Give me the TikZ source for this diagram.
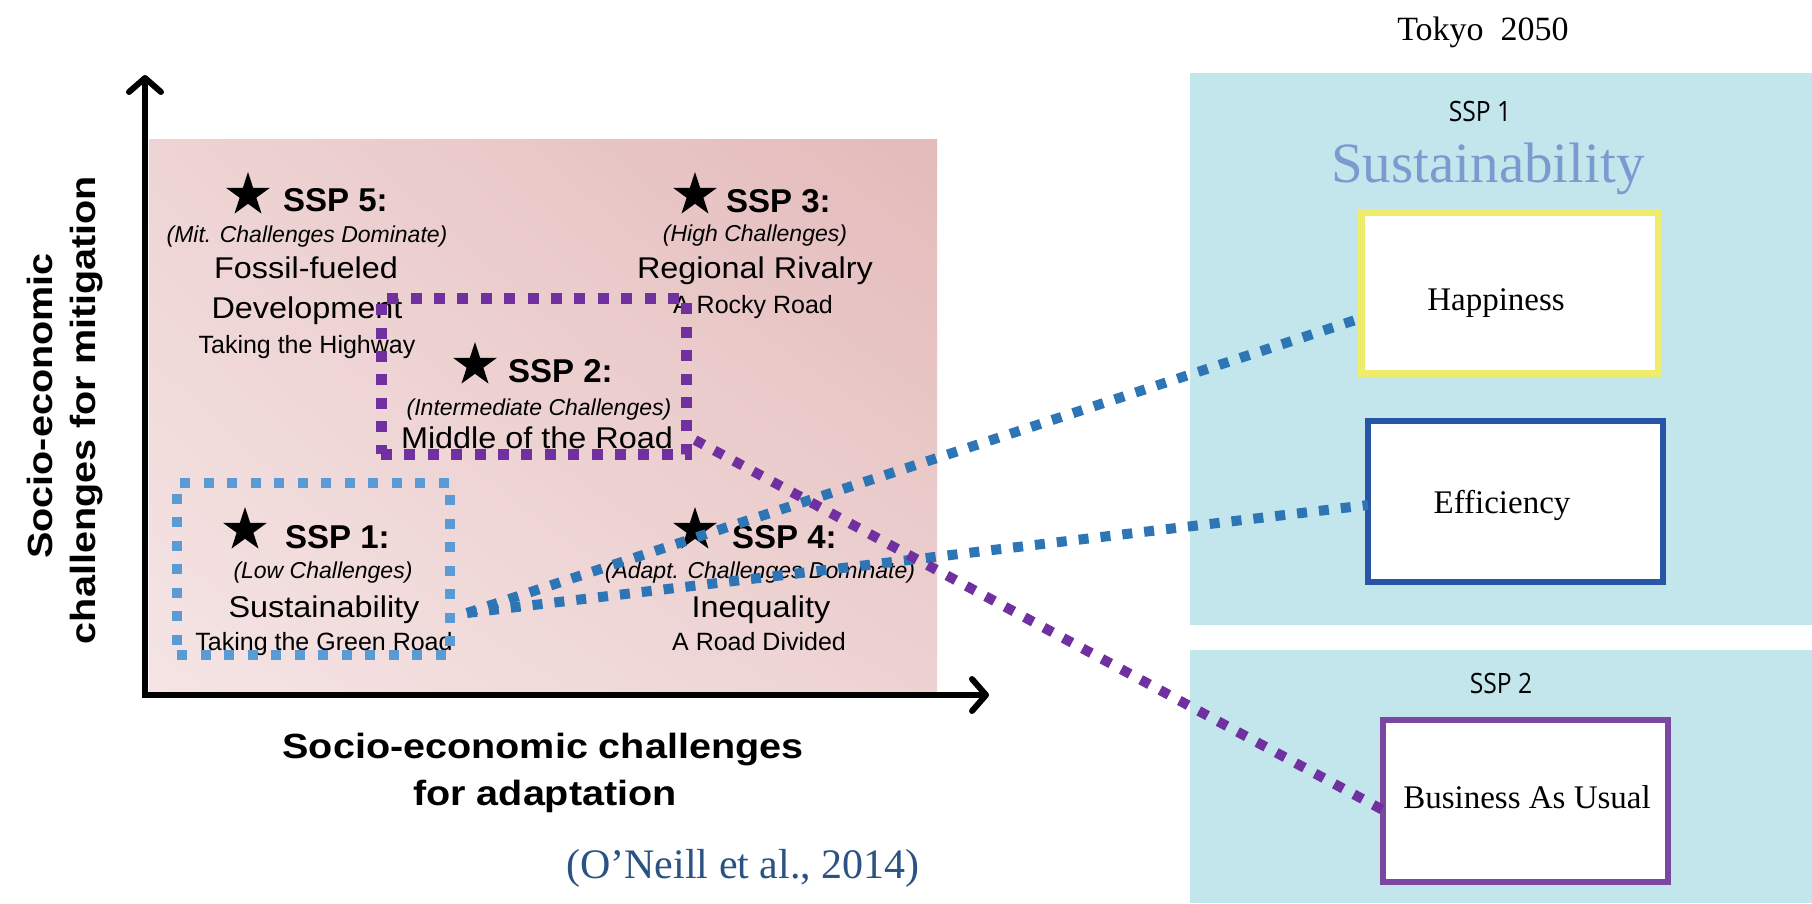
\documentclass[tikz,border=0pt]{standalone}
\usepackage{fontspec}
\setmainfont{Liberation Sans}
\newfontfamily\wsans{Liberation Sans}[FakeStretch=1.08]
\newfontfamily\axsans{Liberation Sans}[FakeStretch=1.13]
\newfontfamily\tserif{Liberation Serif}
\newfontfamily\jsans{Open Sans}[FakeStretch=0.88]
\usetikzlibrary{arrows.meta,shadings}
\definecolor{pUL}{RGB}{238,212,212}
\definecolor{pUR}{RGB}{228,186,186}
\definecolor{pLL}{RGB}{245,228,228}
\definecolor{pLR}{RGB}{237,210,210}
\definecolor{yellowc}{RGB}{238,236,106}
\definecolor{effc}{RGB}{38,86,165}
\definecolor{bauc}{RGB}{122,72,160}
\definecolor{purp}{RGB}{112,48,160}
\definecolor{lblue}{RGB}{91,155,213}
\definecolor{dblue}{RGB}{46,117,182}
\definecolor{sustc}{RGB}{122,155,208}
\definecolor{citec}{RGB}{42,82,130}
\definecolor{cyanp}{RGB}{195,229,236}
\tikzset{
  sstar/.pic={\fill[black] (270:23) -- (306:8.8) -- (342:23) -- (18:8.8) -- (54:23) -- (90:8.8) -- (126:23) -- (162:8.8) -- (198:23) -- (234:8.8) -- cycle;},
  ssphead/.style={anchor=base west, inner sep=0pt, font=\fontsize{33}{33}\selectfont\bfseries},
  subl/.style={anchor=base, inner sep=0pt, font=\fontsize{23}{23}\selectfont\itshape},
  bigl/.style={anchor=base, inner sep=0pt, font=\wsans\fontsize{30}{30}\selectfont},
  smalll/.style={anchor=base, inner sep=0pt, font=\fontsize{25}{25}\selectfont},
  axlab/.style={anchor=base, inner sep=0pt, font=\axsans\bfseries\fontsize{35}{35}\selectfont},
  axisline/.style={line width=6pt, -{Straight Barb[length=14pt,width=32pt,round]}},
  dotrect/.style={rectangle, inner sep=0pt, outer sep=0pt},
  rbox/.style={rectangle, fill=white, inner sep=0pt, outer sep=0pt},
  boxlab/.style={anchor=base, inner sep=0pt, font=\tserif\fontsize{33}{33}\selectfont},
  conn/.style={line width=10pt, dash pattern=on 10pt off 12pt}
}
\begin{document}
\begin{tikzpicture}[x=1pt,y=-1pt]
\useasboundingbox (0,0) rectangle (1812,903);
\fill[white] (0,0) rectangle (1812,903);
% pink background
\shade[upper left=pUL, upper right=pUR, lower left=pLL, lower right=pLR] (149,139) rectangle (937,691);
% axes
\coordinate (ybot) at (145,698);
\coordinate (ytip) at (145,75);
\coordinate (xleft) at (142,695);
\coordinate (xtip) at (989,695);
\draw[axisline] (ybot) -- (ytip);
\draw[axisline] (xleft) -- (xtip);
% axis labels
\node[axlab, rotate=90] (yl1) at (52,406) {Socio-economic};
\node[axlab, rotate=90] (yl2) at (95,410) {challenges for mitigation};
\node[axlab] (xl1) at (543,758) {Socio-economic challenges};
\node[axlab] (xl2) at (545,805) {for adaptation};
% SSP 5
\pic at (248,195) {sstar};
\node[ssphead] (h5) at (283,211) {SSP 5:};
\node[subl] (s5a) at (307,242) {(Mit. Challenges Dominate)};
\node[bigl] (s5b) at (306,278) {Fossil-fueled};
\node[bigl] (s5c) at (307,318) {Development};
\node[smalll] (s5d) at (307,353) {Taking the Highway};
% SSP 3
\pic at (695,195) {sstar};
\node[ssphead] (h3) at (726,212) {SSP 3:};
\node[subl] (s3a) at (755,241) {(High Challenges)};
\node[bigl] (s3b) at (755,278) {Regional Rivalry};
\node[smalll] (s3c) at (753,313) {A Rocky Road};
% SSP 2
\pic at (475,365) {sstar};
\node[ssphead] (h2) at (508,382) {SSP 2:};
\node[subl] (s2a) at (539,415) {(Intermediate Challenges)};
\node[bigl] (s2b) at (537,448) {Middle of the Road};
% SSP 1
\pic at (245,530) {sstar};
\node[ssphead] (h1) at (285,548) {SSP 1:};
\node[subl] (s1a) at (323,578) {(Low Challenges)};
\node[bigl] (s1b) at (324,617) {Sustainability};
\node[smalll] (s1c) at (324,650) {Taking the Green Road};
% SSP 4
\pic at (695,530) {sstar};
\node[ssphead] (h4) at (732,548) {SSP 4:};
\node[subl] (s4a) at (760,578) {(Adapt. Challenges Dominate)};
\node[bigl] (s4b) at (761,617) {Inequality};
\node[smalll] (s4c) at (759,650) {A Road Divided};
% dotted frames
\node[dotrect, draw=purp, line width=11pt, dash pattern=on 11pt off 12.4pt, minimum width=305pt, minimum height=156pt] (r2) at (533.5,376) {};
\node[dotrect, draw=lblue, line width=10pt, dash pattern=on 10pt off 13.5pt, minimum width=273pt, minimum height=172pt] (r1) at (313.5,569) {};
% citation
\node[anchor=base, inner sep=0pt, font=\tserif\fontsize{42}{42}\selectfont, text=citec] (cite) at (743,878) {(O’Neill et al., 2014)};
% right panels
\fill[cyanp] (1190,73) rectangle (1812,625);
\fill[cyanp] (1190,650) rectangle (1812,903);
\node[anchor=base, inner sep=0pt, font=\tserif\fontsize{34}{34}\selectfont] (tok) at (1483,40) {Tokyo\ \ 2050};
\node[anchor=base, inner sep=0pt, font=\jsans\fontsize{28}{28}\selectfont] (p1t) at (1480,121) {SSP 1};
\node[anchor=base, inner sep=0pt, font=\tserif\fontsize{57}{57}\selectfont, text=sustc] (p1s) at (1488,182) {Sustainability};
\node[anchor=base, inner sep=0pt, font=\jsans\fontsize{28}{28}\selectfont] (p2t) at (1501,693) {SSP 2};
\node[rbox, draw=yellowc, line width=7pt, minimum width=297pt, minimum height=161pt] (hap) at (1510,293) {};
\node[boxlab] (hapt) at (1496,310) {Happiness};
\node[rbox, draw=effc, line width=6pt, minimum width=295pt, minimum height=161pt] (eff) at (1515.5,501.5) {};
\node[boxlab] (efft) at (1502,513) {Efficiency};
\node[rbox, draw=bauc, line width=6pt, minimum width=285pt, minimum height=162pt] (bau) at (1525.5,801) {};
\node[boxlab] (baut) at (1527,808) {Business As Usual};
% connectors
\coordinate (c1) at (467,613);
\coordinate (c2) at (695,440);
\draw[conn, dblue] (c1) -- ([yshift=-25pt]hap.west);
\draw[conn, dblue] (c1) -- ([yshift=-3.5pt]eff.west);
\draw[conn, purp] (c2) -- ([yshift=-9pt]bau.west);
\end{tikzpicture}
\end{document}
